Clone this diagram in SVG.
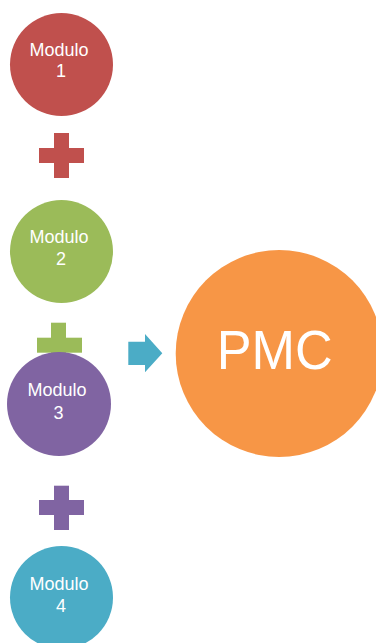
<svg xmlns="http://www.w3.org/2000/svg" width="376" height="643" viewBox="0 0 376 643">
<style>
.t{font-family:"Liberation Sans","Open Sans",Arial,sans-serif;fill:#fff;text-anchor:middle;font-size:18px}
.big{font-family:"Liberation Sans","Open Sans",Arial,sans-serif;fill:#fff;text-anchor:middle;font-size:56px}
</style>
<rect width="376" height="643" fill="#fff"/>
<g id="connectors">
  <g id="plus1" fill="#C0504D"><rect x="39" y="148" width="45" height="15"/><rect x="54" y="133" width="15" height="45"/></g>
  <g id="plus2" fill="#9BBB59"><rect x="37" y="337.7" width="45" height="15"/><rect x="51" y="322.7" width="15" height="45"/></g>
  <g id="plus3" fill="#8064A2"><rect x="39" y="500" width="45" height="15"/><rect x="54" y="485.7" width="15" height="44.3"/></g>
  <path id="arrow" d="M128.3,341.7 H145 V334 L162.3,353.2 L145,372.3 V365 H128.3 Z" fill="#4BACC6"/>
</g>
<g id="modulo1"><circle cx="61.5" cy="64.5" r="51.5" fill="#C0504D"/><text class="t" x="59" y="56">Modulo</text><text class="t" x="61" y="77.3">1</text></g>
<g id="modulo2"><circle cx="61.5" cy="251.5" r="51.5" fill="#9BBB59"/><text class="t" x="59" y="243.3">Modulo</text><text class="t" x="61" y="265">2</text></g>
<g id="modulo3"><circle cx="59" cy="404" r="52" fill="#8064A2"/><text class="t" x="57" y="395.7">Modulo</text><text class="t" x="58.5" y="419.3">3</text></g>
<g id="modulo4"><circle cx="61.5" cy="597.5" r="51.5" fill="#4BACC6"/><text class="t" x="59" y="590">Modulo</text><text class="t" x="61" y="611.7">4</text></g>
<g id="pmc"><circle cx="279.2" cy="353.5" r="103.5" fill="#F79646"/><text class="big" x="274.7" y="369" textLength="116" lengthAdjust="spacingAndGlyphs">PMC</text></g>
</svg>
